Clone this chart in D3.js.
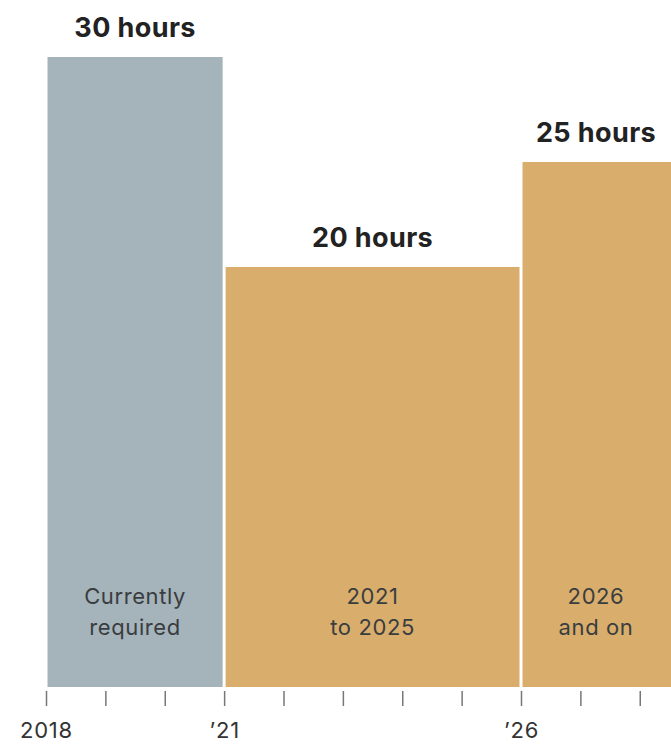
<!DOCTYPE html>
<html>
<head>
<meta charset="utf-8">
<script src="https://cdn.jsdelivr.net/npm/d3@7"></script>
<style>
  body { margin: 0; background: #fff; }
  svg { display: block; font-family: Inter, Lato, sans-serif; }
</style>
</head>
<body>
<div id="chart"></div>
<script>
// periods of required hours
const starts = [2018, 2021, 2026]
const ends = [2021, 2026, 2029]
const hours = [30, 20, 25]
const valueLabels = ['30 hours', '20 hours', '25 hours']
const periodLabels = [['Currently', 'required'], ['2021', 'to 2025'], ['2026', 'and on']]
const colors = ['#a5b3bb', '#d9ae6c', '#d9ae6c']
const tickYears = [2018, 2019, 2020, 2021, 2022, 2023, 2024, 2025, 2026, 2027, 2028]
const tickText = { 2018: '2018', 2021: '\u201921', 2026: '\u201926' }

const width = 671
const height = 744
const base = 687

const svg = d3.select('#chart')
  .append('svg')
  .attr('width', width)
  .attr('height', height)

const x = d3.scaleLinear()
  .domain([2018, 2026])
  .range([46, 521])

const y = d3.scaleLinear()
  .domain([0, 30])
  .range([base, 57])

// centre of the visible part of a bar
const mid = d => (x(d.start) + Math.min(x(d.end), width)) / 2

const data = starts.map((s, i) => ({
  start: s, end: ends[i], value: hours[i],
  label: valueLabels[i], lines: periodLabels[i], color: colors[i]
}))

// bars
svg.selectAll('rect.bar')
  .data(data)
  .enter()
  .append('rect')
  .attr('class', 'bar')
  .attr('x', d => x(d.start) + 1.5)
  .attr('width', d => x(d.end) - x(d.start) - 3)
  .attr('y', d => y(d.value))
  .attr('height', d => y(0) - y(d.value))
  .attr('fill', d => d.color)

// value labels above bars
svg.selectAll('text.value')
  .data(data)
  .enter()
  .append('text')
  .attr('class', 'value')
  .attr('x', mid)
  .attr('y', d => y(d.value) - 20)
  .attr('text-anchor', 'middle')
  .attr('font-size', 27)
  .attr('font-weight', 700)
  .attr('letter-spacing', 0.4)
  .attr('fill', '#222')
  .text(d => d.label)

// period labels inside bars
const inner = svg.selectAll('text.period')
  .data(data)
  .enter()
  .append('text')
  .attr('class', 'period')
  .attr('x', mid)
  .attr('y', 604)
  .attr('text-anchor', 'middle')
  .attr('font-size', 22)
  .attr('letter-spacing', 0.6)
  .attr('fill', '#3a3d40')

inner.selectAll('tspan')
  .data(d => d.lines.map(t => ({ t, cx: mid(d) })))
  .enter()
  .append('tspan')
  .attr('x', d => d.cx)
  .attr('dy', (d, i) => i === 0 ? 0 : 31)
  .text(d => d.t)

// year axis
const axis = svg.append('g')
  .attr('transform', 'translate(0,' + (base + 4) + ')')
  .call(d3.axisBottom(x)
    .tickValues(tickYears)
    .tickSize(15)
    .tickPadding(16)
    .tickFormat(d => tickText[d] || ''))

axis.select('.domain').remove()
axis.selectAll('line')
  .attr('stroke', '#777')
  .attr('stroke-width', 1.5)
axis.selectAll('text')
  .attr('font-size', 22)
  .attr('letter-spacing', 0.8)
  .attr('font-family', 'Inter, Lato, sans-serif')
  .attr('fill', '#333')
</script>
</body>
</html>
